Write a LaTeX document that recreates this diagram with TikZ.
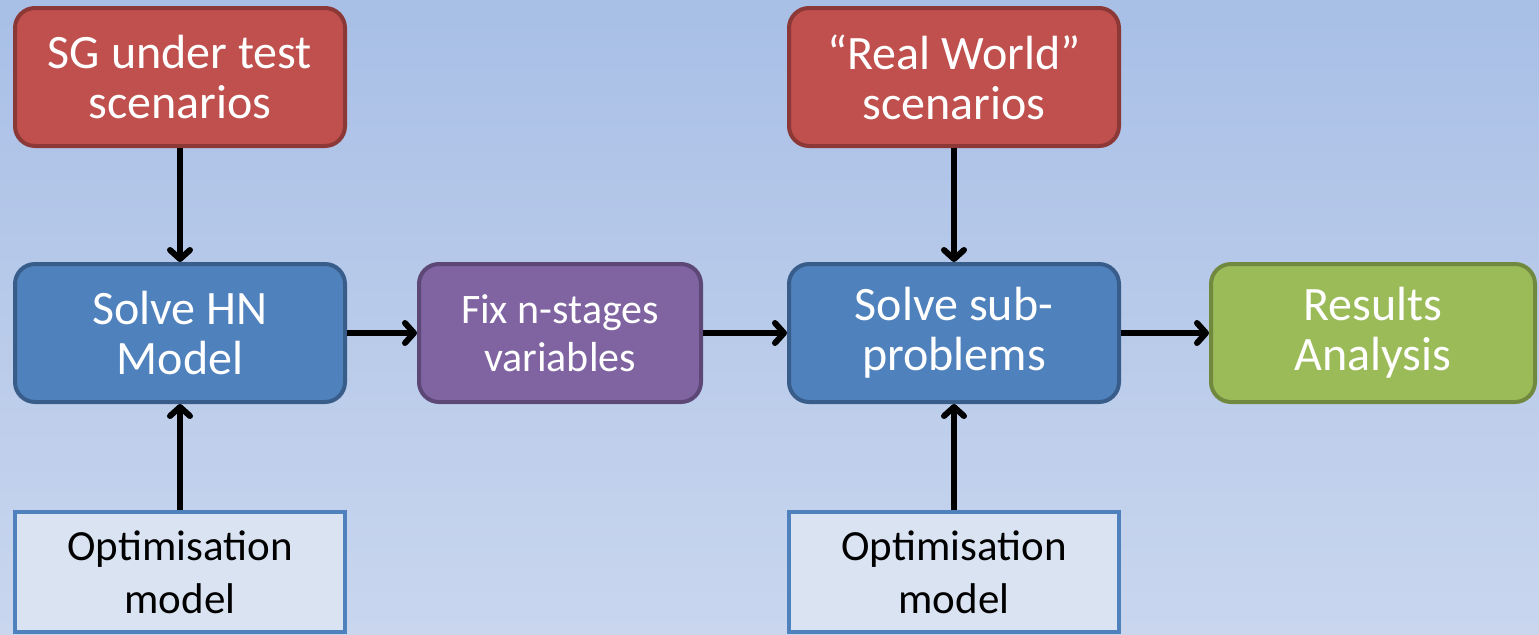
\documentclass[tikz,border=0pt]{standalone}
\usepackage{fontspec}
\setmainfont{Carlito}
\usetikzlibrary{arrows.meta}
\definecolor{bgtop}{HTML}{A8BFE6}
\definecolor{bgbot}{HTML}{C9D6EE}
\definecolor{redf}{HTML}{C0504D}
\definecolor{redd}{HTML}{8C3836}
\definecolor{bluef}{HTML}{4F81BD}
\definecolor{blued}{HTML}{385D8A}
\definecolor{purf}{HTML}{8064A2}
\definecolor{purd}{HTML}{5C4776}
\definecolor{grnf}{HTML}{9BBB59}
\definecolor{grnd}{HTML}{71893F}
\definecolor{optf}{HTML}{DAE3F2}
\begin{document}
\begin{tikzpicture}[x=0.5pt,y=-0.5pt]
\tikzstyle{every node}=[rounded corners=10pt,line width=2pt,minimum width=165pt,minimum height=69pt,align=center,text=white,font=\fontsize{24}{25}\selectfont]
\tikzstyle{scen}=[fill=redf,draw=redd]
\tikzstyle{solve}=[fill=bluef,draw=blued]
\tikzstyle{optbox}=[rounded corners=0pt,fill=optf,draw=bluef,text=black,minimum height=60pt,font=\fontsize{21.5}{26.5}\selectfont]
\tikzstyle{flow}=[line width=3pt,-{Straight Barb[length=4.5pt,width=10pt,round]}]
\shade[top color=bgtop,bottom color=bgbot] (0,0) rectangle (1539,634);
\useasboundingbox (0,0) rectangle (1539,634);
\node[scen](sg) at (180,77) {SG under test\\scenarios};
\node[scen](rw) at (954,77) {``Real World''\\scenarios};
\node[solve](hn) at (180,333) {Solve HN\\Model};
\node[fill=purf,draw=purd,minimum width=141pt,font=\fontsize{21}{24}\selectfont](fix) at (560,333) {Fix n-stages\\variables};
\node[solve](sub) at (954,333) {Solve sub-\\problems};
\node[fill=grnf,draw=grnd,minimum width=162pt](res) at (1373,333) {Results\\Analysis};
\node[optbox](opt1) at (180,572) {Optimisation\\model};
\node[optbox](opt2) at (954,572) {Optimisation\\model};
\draw[flow] (sg) -- (hn);
\draw[flow] (rw) -- (sub);
\draw[flow] (opt1) -- (hn);
\draw[flow] (opt2) -- (sub);
\draw[flow] (hn) -- (fix);
\draw[flow] (fix) -- (sub);
\draw[flow] (sub) -- (res);
\end{tikzpicture}
\end{document}
